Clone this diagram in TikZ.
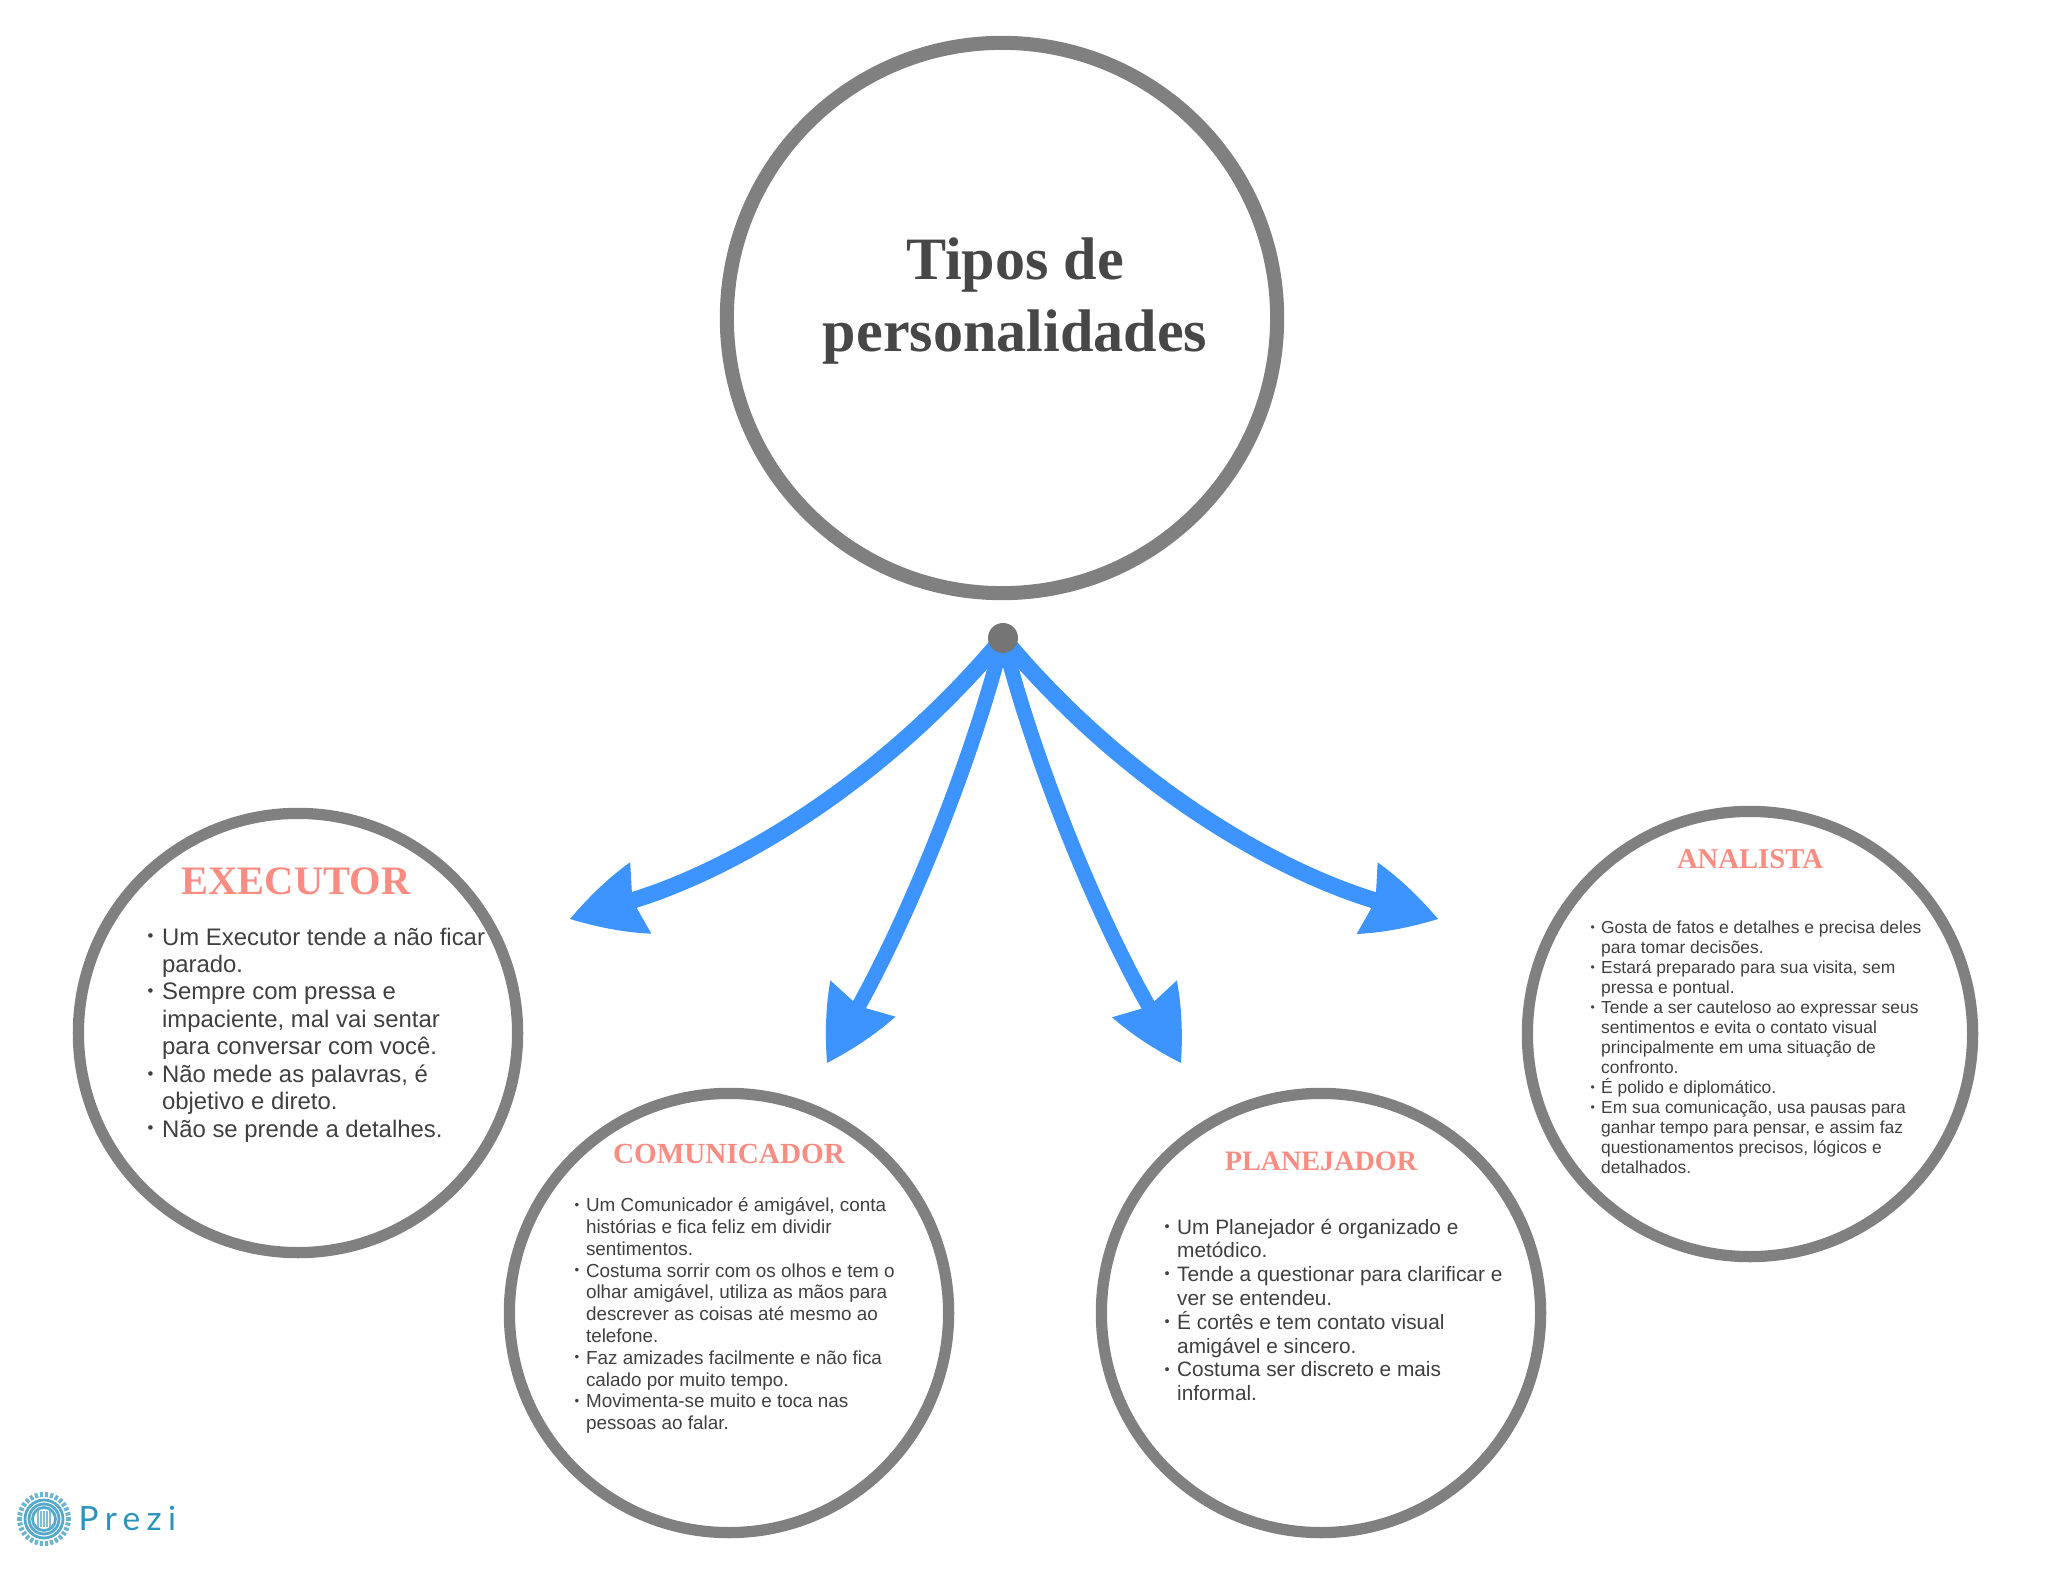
\documentclass[tikz,border=0pt]{standalone}
\usepackage{fontspec}
\setmainfont{Liberation Sans}
\newfontfamily\titlefont{Liberation Serif}[BoldFont={Liberation Serif Bold}]
\newfontfamily\prezifont[LetterSpace=19]{Lato}
\usetikzlibrary{arrows.meta, calc}

\definecolor{ringgray}{HTML}{808080}
\definecolor{hubgray}{HTML}{757575}
\definecolor{arrowblue}{HTML}{3D94FF}
\definecolor{salmon}{HTML}{FA8C82}
\definecolor{bodygray}{HTML}{3F3F3F}
\definecolor{prezi}{HTML}{2B93BD}

\pgfdeclarearrow{
  name=LeafHead,
  setup code={
    \pgfarrowssettipend{21pt}
    \pgfarrowssetlineend{3.5pt}
    \pgfarrowssetvisualbackend{2.5pt}
    \pgfarrowssetbackend{0pt}
    \pgfarrowshullpoint{21pt}{0pt}
    \pgfarrowshullpoint{0pt}{10.6pt}
    \pgfarrowshullpoint{0pt}{-10.6pt}
  },
  drawing code={
    \pgfpathmoveto{\pgfpoint{21pt}{0pt}}
    \pgfpathcurveto{\pgfpoint{14pt}{4.6pt}}{\pgfpoint{7pt}{8.2pt}}{\pgfpoint{0pt}{10.6pt}}
    \pgfpathlineto{\pgfpoint{2.5pt}{0pt}}
    \pgfpathlineto{\pgfpoint{0pt}{-10.6pt}}
    \pgfpathcurveto{\pgfpoint{7pt}{-8.2pt}}{\pgfpoint{14pt}{-4.6pt}}{\pgfpoint{21pt}{0pt}}
    \pgfpathclose
    \pgfusepathqfill
  }
}

\newcommand{\pb}{\makebox[0.6em][l]{\raisebox{.25ex}{\scalebox{.7}{\textbullet}}}}
\newcommand{\rc}{\hspace*{0.6em}}

\tikzset{
  ring/.style={draw=ringgray, line width=3.2pt, circle, minimum size=4.39cm, inner sep=0pt},
  flow/.style={draw=arrowblue, line width=4.7pt, -LeafHead},
  heading/.style={text=salmon, inner sep=0pt},
  body/.style={text=bodygray, align=left, anchor=north west, inner sep=0pt},
}

\begin{document}
\begin{tikzpicture}[x=0.01cm, y=-0.01cm]
    \useasboundingbox (0,0) rectangle (2048,1582);

    \coordinate (O) at (1003,638);
    \coordinate (E) at (570,919);
    \coordinate (C) at (827,1063);
    \coordinate (P) at (1181,1063);
    \coordinate (A) at (1438,919);

    \draw[flow] (O) .. controls (885,780) and (735,870) .. (E);
    \draw[flow, line width=4.2pt] (O) .. controls (975,750) and (915,905) .. (C);
    \draw[flow, line width=4.2pt] (O) .. controls (1031,750) and (1091,905) .. (P);
    \draw[flow] (O) .. controls (1121,780) and (1271,870) .. (A);

    \node[circle, fill=hubgray, minimum size=0.3cm, inner sep=0pt] (hub) at (O) {};

    \node[ring, line width=4pt, minimum size=5.5cm] (main) at (1002,318) {};
    \node[ring] (executor) at (298,1033) {};
    \node[ring] (comunicador) at (729,1313) {};
    \node[ring] (planejador) at (1321,1313) {};
    \node[ring, minimum size=4.45cm] (analista) at (1750,1034) {};

    \node[text=black!72, font=\titlefont\bfseries\fontsize{17.1}{20.5}\selectfont, align=center, inner sep=0pt] (tipos) at (1015,301) {Tipos de\\personalidades};

    \node[heading, font=\titlefont\bfseries\fontsize{11.5}{14}\selectfont] (titleE) at (296,881) {EXECUTOR};
    \node[heading, font=\titlefont\bfseries\fontsize{8.3}{10}\selectfont] (titleC) at (729,1154) {COMUNICADOR};
    \node[heading, font=\titlefont\bfseries\fontsize{8}{10}\selectfont] (titleP) at (1321,1161) {PLANEJADOR};
    \node[heading, font=\titlefont\bfseries\fontsize{8.15}{10}\selectfont] (titleA) at (1750,859) {ANALISTA};

    \node[body, font=\fontsize{6.8}{7.8}\selectfont] (textE) at (147,927) {%
        \pb Um Executor tende a não ficar\\
        \rc parado.\\
        \pb Sempre com pressa e\\
        \rc impaciente, mal vai sentar\\
        \rc para conversar com você.\\
        \pb Não mede as palavras, é\\
        \rc objetivo e direto.\\
        \pb Não se prende a detalhes.};

    \node[body, font=\fontsize{5.37}{6.2}\selectfont] (textC) at (574,1197) {%
        \pb Um Comunicador é amigável, conta\\
        \rc histórias e fica feliz em dividir\\
        \rc sentimentos.\\
        \pb Costuma sorrir com os olhos e tem o\\
        \rc olhar amigável, utiliza as mãos para\\
        \rc descrever as coisas até mesmo ao\\
        \rc telefone.\\
        \pb Faz amizades facilmente e não fica\\
        \rc calado por muito tempo.\\
        \pb Movimenta-se muito e toca nas\\
        \rc pessoas ao falar.};

    \node[body, font=\fontsize{5.92}{6.77}\selectfont] (textP) at (1164,1218) {%
        \pb Um Planejador é organizado e\\
        \rc metódico.\\
        \pb Tende a questionar para clarificar e\\
        \rc ver se entendeu.\\
        \pb É cortês e tem contato visual\\
        \rc amigável e sincero.\\
        \pb Costuma ser discreto e mais\\
        \rc informal.};

    \node[body, font=\fontsize{4.95}{5.69}\selectfont] (textA) at (1590,920) {%
        \pb Gosta de fatos e detalhes e precisa deles\\
        \rc para tomar decisões.\\
        \pb Estará preparado para sua visita, sem\\
        \rc pressa e pontual.\\
        \pb Tende a ser cauteloso ao expressar seus\\
        \rc sentimentos e evita o contato visual\\
        \rc principalmente em uma situação de\\
        \rc confronto.\\
        \pb É polido e diplomático.\\
        \pb Em sua comunicação, usa pausas para\\
        \rc ganhar tempo para pensar, e assim faz\\
        \rc questionamentos precisos, lógicos e\\
        \rc detalhados.};

    \coordinate (L) at (44,1519);
    \foreach \a in {0,12,...,348} {
        \draw[prezi!70, line width=0.9pt] ($(L)+(\a:22)$) -- ($(L)+(\a:27)$);
    }
    \draw[prezi!80, line width=0.8pt] (L) circle (19);
    \draw[prezi!80, line width=0.8pt] (L) circle (15);
    \draw[prezi!80, line width=0.8pt] (L) circle (11.5);
    \foreach \d in {-6,-3,0,3,6} {
        \draw[prezi!60, line width=0.6pt] ($(L)+(\d,-8)$) -- ($(L)+(\d,8)$);
    }
    \node[text=prezi, font=\prezifont\fontsize{9.5}{11}\selectfont, anchor=base west, inner sep=0pt] (brand) at (78,1530) {Prezi};
\end{tikzpicture}
\end{document}
